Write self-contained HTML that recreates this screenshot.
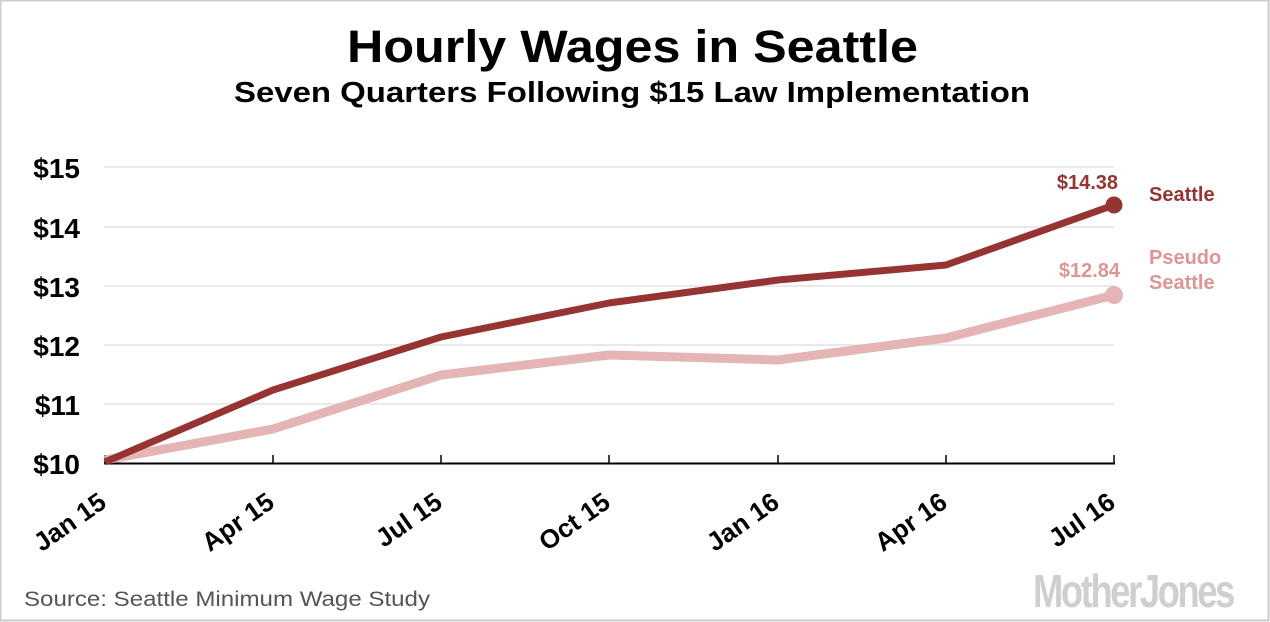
<!DOCTYPE html>
<html><head><style>
body{margin:0;background:#fff}
svg{display:block}
text{font-family:"Liberation Sans",sans-serif}
</style></head><body>
<svg width="1270" height="622" viewBox="0 0 1270 622" xmlns="http://www.w3.org/2000/svg">
<rect x="0.5" y="0.5" width="1268" height="620" fill="#fff" stroke="#ccc" stroke-width="2"/>
<text x="347" y="62" font-size="45" font-weight="bold" fill="#000" textLength="571" lengthAdjust="spacingAndGlyphs">Hourly Wages in Seattle</text>
<text x="234" y="102" font-size="29" font-weight="bold" fill="#000" textLength="796" lengthAdjust="spacingAndGlyphs">Seven Quarters Following $15 Law Implementation</text>
<g stroke="#e2e2e2" stroke-width="1.5">
<line x1="104" x2="1114" y1="167" y2="167"/><line x1="104" x2="1114" y1="227" y2="227"/>
<line x1="104" x2="1114" y1="286" y2="286"/><line x1="104" x2="1114" y1="345" y2="345"/>
<line x1="104" x2="1114" y1="404" y2="404"/>
</g>
<g font-size="28" font-weight="bold" fill="#000" text-anchor="end">
<text x="80" y="178">$15</text><text x="80" y="238">$14</text><text x="80" y="297">$13</text>
<text x="80" y="356">$12</text><text x="80" y="415">$11</text><text x="80" y="474">$10</text>
</g>
<line x1="104" x2="1115" y1="463.5" y2="463.5" stroke="#000" stroke-width="2"/>
<g stroke="#000" stroke-width="1.5">
<line x1="105" x2="105" y1="455" y2="463"/><line x1="273" x2="273" y1="455" y2="463"/>
<line x1="441" x2="441" y1="455" y2="463"/><line x1="609" x2="609" y1="455" y2="463"/>
<line x1="778" x2="778" y1="455" y2="463"/><line x1="946" x2="946" y1="455" y2="463"/>
<line x1="1114" x2="1114" y1="455" y2="463"/>
</g>
<g font-size="26" font-weight="bold" fill="#000" text-anchor="end">
<text transform="translate(108,506) rotate(-35)">Jan 15</text>
<text transform="translate(276,506) rotate(-35)">Apr 15</text>
<text transform="translate(444,506) rotate(-35)">Jul 15</text>
<text transform="translate(612,506) rotate(-35)">Oct 15</text>
<text transform="translate(781,506) rotate(-35)">Jan 16</text>
<text transform="translate(949,506) rotate(-35)">Apr 16</text>
<text transform="translate(1117,506) rotate(-35)">Jul 16</text>
</g>
<polyline fill="none" stroke="#e5b5b5" stroke-width="9" stroke-linejoin="round" points="105,460 273,429 441,375 609,355 778,360 946,338 1114,295"/>
<circle cx="1114" cy="295" r="9" fill="#e5b5b5"/>
<polyline fill="none" stroke="#963433" stroke-width="7" stroke-linejoin="round" points="105,462 273,390 441,337 609,303 778,280 946,265 1114,205"/>
<circle cx="1114" cy="205" r="8.5" fill="#963433"/>
<text x="1118" y="189" text-anchor="end" font-size="20" font-weight="bold" fill="#963433">$14.38</text>
<text x="1120" y="277" text-anchor="end" font-size="20" font-weight="bold" fill="#dd9595">$12.84</text>
<text x="1149" y="201" font-size="20" font-weight="bold" fill="#963433">Seattle</text>
<text x="1149" y="264" font-size="20" font-weight="bold" fill="#dd9595">Pseudo</text>
<text x="1149" y="289" font-size="20" font-weight="bold" fill="#dd9595">Seattle</text>
<text x="24" y="606" font-size="21" fill="#555" textLength="406" lengthAdjust="spacingAndGlyphs">Source:  Seattle Minimum Wage Study</text>
<text x="1233" y="607" text-anchor="end" font-size="46" font-weight="bold" fill="#cfcfcf" letter-spacing="-3" textLength="200" lengthAdjust="spacingAndGlyphs">MotherJones</text>
</svg>
</body></html>
